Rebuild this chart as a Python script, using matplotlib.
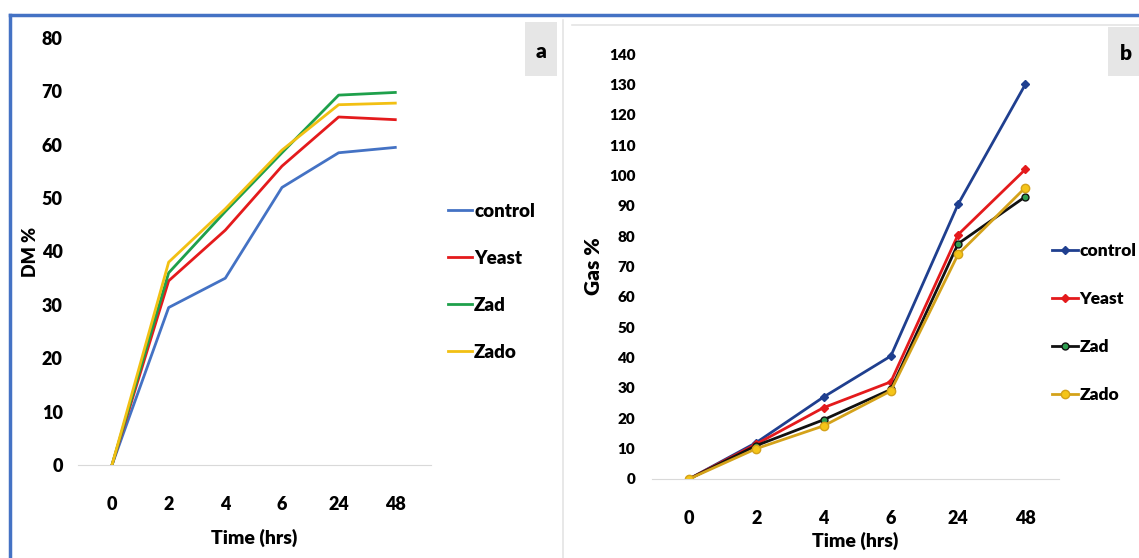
import matplotlib
matplotlib.use("Agg")
import matplotlib.pyplot as plt
from matplotlib.lines import Line2D
from matplotlib.patches import Rectangle

plt.rcParams['font.family'] = ['Lato', 'DejaVu Sans']

time_labels = ["0", "2", "4", "6", "24", "48"]
series_names = ["control", "Yeast", "Zad", "Zado"]

dm_control = [0, 29.5, 35, 52, 58.5, 59.5]
dm_yeast = [0, 34.5, 44, 56, 65.2, 64.7]
dm_zad = [0, 36, 47.5, 58.5, 69.3, 69.8]
dm_zado = [0, 38, 48, 59, 67.5, 67.8]

gas_control = [0, 12, 27, 40.5, 90.5, 130]
gas_yeast = [0, 11.5, 23.5, 32, 80.5, 102]
gas_zad = [0, 11, 19.5, 29.5, 77.5, 93]
gas_zado = [0, 10, 17.5, 29, 74, 96]

W, H = 1139, 558
fig = plt.figure(figsize=(W / 100, H / 100), dpi=100)
fig.patch.set_facecolor("white")
WT = "heavy"

def fx(px):
    return px / W

def fy(py):
    return 1 - py / H

# ---- borders ----
fig.add_artist(Line2D([fx(10), 1], [fy(15), fy(15)], color="#4472C4", lw=2.5, transform=fig.transFigure))
fig.add_artist(Line2D([fx(10), fx(10)], [fy(15), 0], color="#4472C4", lw=2.5, transform=fig.transFigure))
fig.add_artist(Line2D([fx(563), fx(563)], [fy(20), 0], color="#E4E4E4", lw=1.2, transform=fig.transFigure))
fig.add_artist(Line2D([fx(572), 1], [fy(25), fy(25)], color="#E4E4E4", lw=1.2, transform=fig.transFigure))

x = list(range(len(time_labels)))

# ---- panel a ----
axa = fig.add_axes([fx(78), fy(465), fx(431) - fx(78), fy(38) - fy(465)])
cols_a = ["#4472C4", "#E41A1C", "#1EA04B", "#F2C013"]
for vals, name, c in zip([dm_control, dm_yeast, dm_zad, dm_zado], series_names, cols_a):
    axa.plot(x, vals, color=c, lw=2, label=name)
axa.set_xlim(-0.6, 5.63)
axa.set_ylim(0, 80)
axa.set_yticks(range(0, 81, 10))
axa.set_xticks(x)
axa.set_xticklabels(time_labels)
for s in ["top", "right", "left"]:
    axa.spines[s].set_visible(False)
axa.spines["bottom"].set_color("#D9D9D9")
axa.tick_params(axis="both", length=0)
axa.tick_params(axis="y", pad=11)
axa.tick_params(axis="x", pad=22)
for lab in axa.get_xticklabels() + axa.get_yticklabels():
    lab.set_fontsize(13)
    lab.set_fontweight(WT)
axa.set_ylabel("DM %", fontsize=13, fontweight=WT, labelpad=2)
axa.set_xlabel("Time (hrs)", fontsize=14, fontweight=WT, labelpad=12)
axa.legend(loc="center left", bbox_to_anchor=(fx(431), fy(282)), bbox_transform=fig.transFigure,
           frameon=False, handlelength=1.3, handletextpad=0.1, labelspacing=1.6,
           prop=dict(size=13.5, weight=WT))
fig.add_artist(Rectangle((fx(525), fy(76)), fx(32), fy(22) - fy(76), transform=fig.transFigure,
                         facecolor="#E6E6E6", edgecolor="none"))
fig.text(fx(541), fy(52), "a", ha="center", va="center", fontsize=15, fontweight=WT)

# ---- panel b ----
axb = fig.add_axes([fx(652), fy(479), fx(1059) - fx(652), fy(54) - fy(479)])
cols_line = ["#1F3F8F", "#E41A1C", "#111111", "#D4A21A"]
cols_mk = ["#1F3F8F", "#E41A1C", "#2E9E4F", "#F5C518"]
mks = ["D", "D", "o", "o"]
mss = [4, 4, 5, 6]
for vals, name, lc, mc, m, ms in zip([gas_control, gas_yeast, gas_zad, gas_zado], series_names,
                                     cols_line, cols_mk, mks, mss):
    axb.plot(x, vals, color=lc, lw=2, marker=m, markersize=ms, markerfacecolor=mc,
             markeredgecolor=lc, label=name)
axb.set_xlim(-0.55, 5.5)
axb.set_ylim(0, 140)
axb.set_yticks(range(0, 141, 10))
axb.set_xticks(x)
axb.set_xticklabels(time_labels)
for s in ["top", "right", "left"]:
    axb.spines[s].set_visible(False)
axb.spines["bottom"].set_color("#D9D9D9")
axb.tick_params(axis="both", length=0)
axb.tick_params(axis="y", pad=12)
axb.tick_params(axis="x", pad=22)
for lab in axb.get_xticklabels():
    lab.set_fontsize(13)
    lab.set_fontweight(WT)
for lab in axb.get_yticklabels():
    lab.set_fontsize(11)
    lab.set_fontweight(WT)
axb.set_ylabel("Gas %", fontsize=15, fontweight=WT, labelpad=4)
axb.set_xlabel("Time (hrs)", fontsize=14, fontweight=WT, labelpad=4)
axb.legend(loc="center left", bbox_to_anchor=(fx(1036), fy(323)), bbox_transform=fig.transFigure,
           frameon=False, handlelength=1.5, handletextpad=0.1, labelspacing=1.85,
           prop=dict(size=12.5, weight=WT))
fig.add_artist(Rectangle((fx(1108), fy(76)), fx(40), fy(27) - fy(76), transform=fig.transFigure,
                         facecolor="#E6E6E6", edgecolor="none"))
fig.text(fx(1126), fy(54), "b", ha="center", va="center", fontsize=15, fontweight=WT)

fig.savefig("out.png", dpi=100)
